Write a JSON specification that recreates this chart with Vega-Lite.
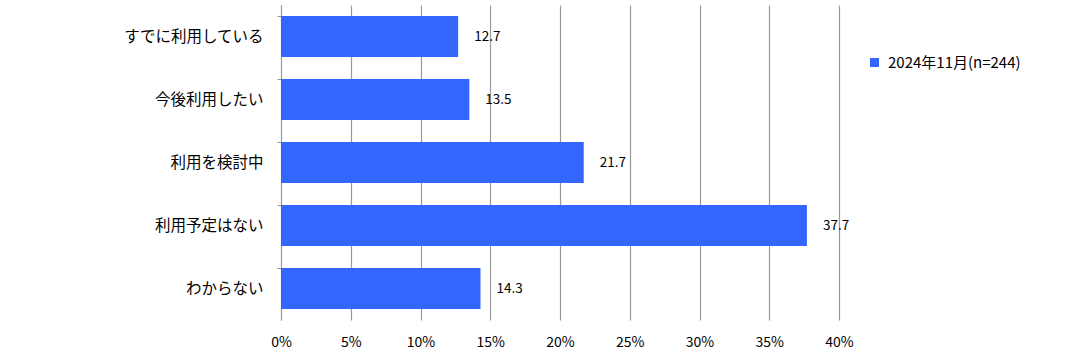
{
  "$schema": "https://vega.github.io/schema/vega-lite/v6.json",
  "width": 558,
  "height": 315,
  "autosize": {"type": "none"},
  "padding": {"left": 281, "top": 5, "right": 227, "bottom": 41},
  "background": "white",
  "config": {"view": {"stroke": null}, "font": "Noto Sans CJK JP"},
  "data": {
    "values": [
      {"item": "すでに利用している", "value": 12.7, "series": "2024年11月(n=244)"},
      {"item": "今後利用したい", "value": 13.5, "series": "2024年11月(n=244)"},
      {"item": "利用を検討中", "value": 21.7, "series": "2024年11月(n=244)"},
      {"item": "利用予定はない", "value": 37.7, "series": "2024年11月(n=244)"},
      {"item": "わからない", "value": 14.3, "series": "2024年11月(n=244)"}
    ]
  },
  "encoding": {
    "y": {
      "field": "item",
      "type": "nominal",
      "sort": null,
      "scale": {"paddingInner": 0.35, "paddingOuter": 0.175},
      "axis": {
        "title": null,
        "domain": true,
        "domainColor": "#999999",
        "ticks": true,
        "tickColor": "#999999",
        "tickSize": 4,
        "bandPosition": 0,
        "labelPadding": 14,
        "labelFontSize": 15.5,
        "labelFontWeight": "normal",
        "labelColor": "#000000",
        "labelFont": "Noto Sans CJK JP"
      }
    }
  },
  "layer": [
    {
      "mark": {"type": "bar", "color": "#3366FF"},
      "encoding": {
        "x": {
          "field": "value",
          "type": "quantitative",
          "scale": {"domain": [0, 40], "nice": false},
          "axis": {
            "title": null,
            "values": [0, 5, 10, 15, 20, 25, 30, 35, 40],
            "labelExpr": "datum.value + '%'",
            "labelFlush": false,
            "grid": true,
            "gridColor": "#999999",
            "gridWidth": 1.2,
            "domain": false,
            "ticks": false,
            "labelPadding": 15,
            "labelFontSize": 14,
            "labelColor": "#000000"
          }
        },
        "color": {
          "field": "series",
          "type": "nominal",
          "scale": {"range": ["#3366FF"]},
          "legend": {
            "title": null,
            "orient": "none",
            "legendX": 586,
            "legendY": 50,
            "symbolType": "square",
            "symbolSize": 81,
            "symbolStrokeWidth": 0,
            "labelFontSize": 15,
            "labelColor": "#000000",
            "labelOffset": 6,
            "labelLimit": 300,
            "padding": 0
          }
        }
      }
    },
    {
      "mark": {"type": "text", "align": "left", "baseline": "middle", "dx": 16, "fontSize": 13.5, "color": "#000000"},
      "encoding": {
        "x": {"field": "value", "type": "quantitative"},
        "text": {"field": "value", "type": "quantitative", "format": ".1f"}
      }
    }
  ]
}
